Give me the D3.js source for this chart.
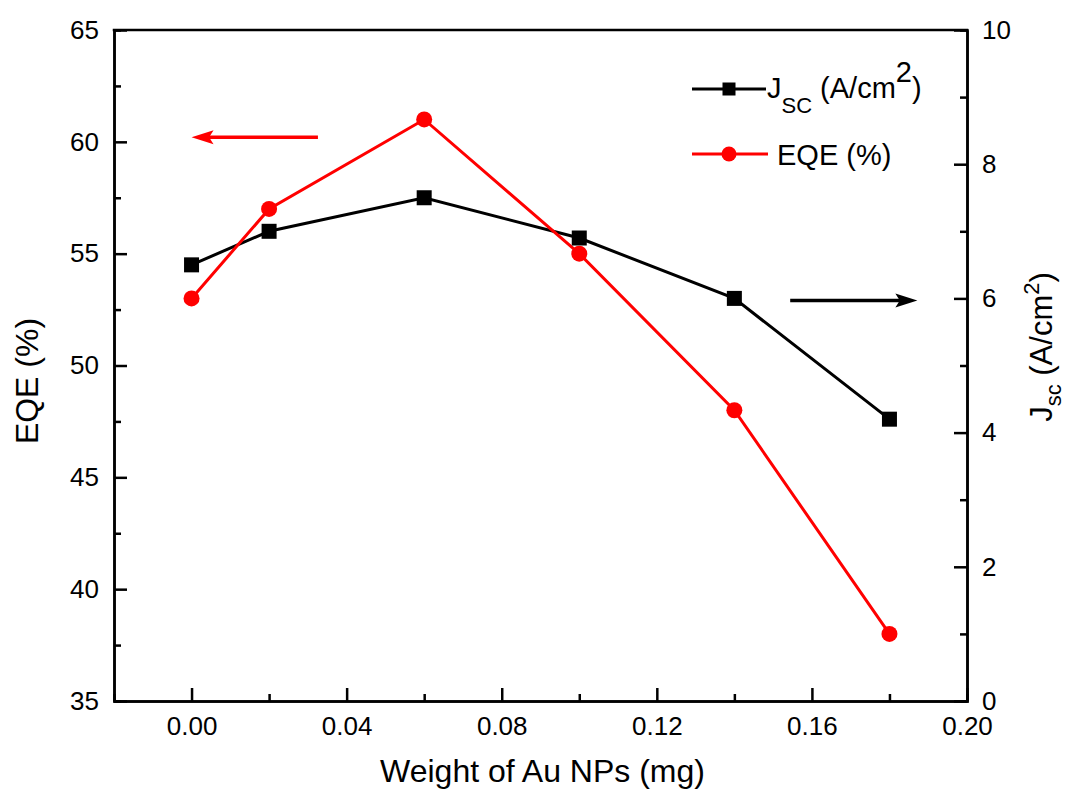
<!DOCTYPE html>
<html>
<head>
<meta charset="utf-8">
<script src="https://cdn.jsdelivr.net/npm/d3@7"></script>
<style>
  body { margin: 0; background: #fff; }
  svg { display: block; font-family: Arial, "Liberation Sans", sans-serif; }
</style>
</head>
<body>
<svg id="chart"></svg>
<script>
// data
const weight = [0.00, 0.02, 0.06, 0.10, 0.14, 0.18]; // mg
const jsc = [6.5, 7.0, 7.5, 6.9, 6.0, 4.2];          // A/cm2, right axis
const eqe = [53, 57, 61, 55, 48, 38];                // %, left axis

const xTicks = [0.00, 0.04, 0.08, 0.12, 0.16, 0.20];
const xMinor = [0.02, 0.06, 0.10, 0.14, 0.18];
const yLeftTicks = [35, 40, 45, 50, 55, 60, 65];
const yLeftMinor = [37.5, 42.5, 47.5, 52.5, 57.5, 62.5];
const yRightTicks = [0, 2, 4, 6, 8, 10];
const yRightMinor = [1, 3, 5, 7, 9];

// annotation arrows: [from, to] in data units
const eqeArrow = {x: [0.0326, 0.0], y: 60.2};
const jscArrow = {x: [0.1544, 0.1872], y: 5.97};

const width = 1065, height = 791;
const marginLeft = 114, marginRight = 98, marginTop = 30, marginBottom = 90;

const x = d3.scaleLinear([-0.02, 0.20], [marginLeft, width - marginRight]);
const yL = d3.scaleLinear([35, 65], [height - marginBottom, marginTop]);
const yR = d3.scaleLinear([0, 10], [height - marginBottom, marginTop]);

const svg = d3.select("#chart")
    .attr("width", width)
    .attr("height", height)
    .attr("viewBox", [0, 0, width, height]);

const axisW = 2.5, major = 13, minor = 7, tickFont = 26;

function styleAxis(g) {
  g.attr("font-size", tickFont).attr("font-family", null);
  g.select(".domain").attr("stroke-width", axisW);
  g.selectAll(".tick line").attr("stroke-width", axisW);
  g.selectAll(".tick text").attr("fill", "#000");
}

// minor ticks first, majors on top
svg.append("g")
    .attr("transform", `translate(0,${height - marginBottom})`)
    .call(d3.axisBottom(x).tickValues(xMinor).tickSize(-minor).tickFormat(""))
    .call(styleAxis);
svg.append("g")
    .attr("transform", `translate(0,${height - marginBottom})`)
    .call(d3.axisBottom(x).tickValues(xTicks).tickSizeInner(-major).tickSizeOuter(0)
      .tickPadding(16).tickFormat(d3.format(".2f")))
    .call(styleAxis);

svg.append("g")
    .attr("transform", `translate(${marginLeft},0)`)
    .call(d3.axisLeft(yL).tickValues(yLeftMinor).tickSize(-minor).tickFormat(""))
    .call(styleAxis);
svg.append("g")
    .attr("transform", `translate(${marginLeft},0)`)
    .call(d3.axisLeft(yL).tickValues(yLeftTicks).tickSizeInner(-major).tickSizeOuter(0)
      .tickPadding(15))
    .call(styleAxis);

svg.append("g")
    .attr("transform", `translate(${width - marginRight},0)`)
    .call(d3.axisRight(yR).tickValues(yRightMinor).tickSize(-minor).tickFormat(""))
    .call(styleAxis);
svg.append("g")
    .attr("transform", `translate(${width - marginRight},0)`)
    .call(d3.axisRight(yR).tickValues(yRightTicks).tickSizeInner(-major).tickSizeOuter(0)
      .tickPadding(15))
    .call(styleAxis);

// top frame line
svg.append("line")
    .attr("x1", marginLeft - axisW / 2).attr("x2", width - marginRight + axisW / 2)
    .attr("y1", marginTop).attr("y2", marginTop)
    .attr("stroke", "#000").attr("stroke-width", axisW);

// axis titles
svg.append("text")
    .attr("x", (marginLeft + width - marginRight) / 2 + 2)
    .attr("y", 782)
    .attr("text-anchor", "middle")
    .attr("font-size", 32)
    .text("Weight of Au NPs (mg)");

svg.append("text")
    .attr("transform", "translate(38,381) rotate(-90)")
    .attr("text-anchor", "middle")
    .attr("font-size", 32)
    .text("EQE (%)");

const rTitle = svg.append("text")
    .attr("transform", "translate(1052,347) rotate(-90)")
    .attr("text-anchor", "middle")
    .attr("font-size", 31);
rTitle.append("tspan").text("J");
rTitle.append("tspan").attr("font-size", 22).attr("dy", 9).text("sc");
rTitle.append("tspan").attr("dy", -9).text(" (A/cm");
rTitle.append("tspan").attr("font-size", 22).attr("dy", -13).text("2");
rTitle.append("tspan").attr("dy", 13).text(")");

// series
const lineJ = d3.line().x((d, i) => x(weight[i])).y(d => yR(d));
const lineE = d3.line().x((d, i) => x(weight[i])).y(d => yL(d));

svg.append("path")
    .attr("d", lineJ(jsc))
    .attr("fill", "none").attr("stroke", "#000").attr("stroke-width", 3);
svg.append("path")
    .attr("d", lineE(eqe))
    .attr("fill", "none").attr("stroke", "#ff0000").attr("stroke-width", 3);

const sq = 15, r = 8;
svg.append("g").selectAll("rect")
  .data(jsc)
  .join("rect")
    .attr("x", (d, i) => x(weight[i]) - sq / 2)
    .attr("y", d => yR(d) - sq / 2)
    .attr("width", sq).attr("height", sq)
    .attr("fill", "#000");
svg.append("g").selectAll("circle")
  .data(eqe)
  .join("circle")
    .attr("cx", (d, i) => x(weight[i]))
    .attr("cy", d => yL(d))
    .attr("r", r)
    .attr("fill", "#ff0000");

// arrows
function arrow(x0, x1, y, color) {
  const dir = Math.sign(x1 - x0), head = 22, half = 7;
  svg.append("line")
      .attr("x1", x0).attr("x2", x1 - dir * head * 0.6)
      .attr("y1", y).attr("y2", y)
      .attr("stroke", color).attr("stroke-width", 3.5);
  svg.append("path")
      .attr("d", `M${x1},${y}L${x1 - dir * head},${y - half}L${x1 - dir * head * 0.8},${y}L${x1 - dir * head},${y + half}Z`)
      .attr("fill", color);
}
arrow(x(eqeArrow.x[0]), x(eqeArrow.x[1]), yL(eqeArrow.y), "#ff0000");
arrow(x(jscArrow.x[0]), x(jscArrow.x[1]), yR(jscArrow.y), "#000");

// legend
const lg = svg.append("g").attr("font-size", 29);
lg.append("line").attr("x1", 692).attr("x2", 766).attr("y1", 89).attr("y2", 89)
    .attr("stroke", "#000").attr("stroke-width", 3);
lg.append("rect").attr("x", 729 - 6.5).attr("y", 89 - 6.5).attr("width", 13).attr("height", 13)
    .attr("fill", "#000");
const lt = lg.append("text").attr("x", 767).attr("y", 98);
lt.append("tspan").text("J");
lt.append("tspan").attr("font-size", 22).attr("dy", 15).text("SC");
lt.append("tspan").attr("dy", -15).text(" (A/cm");
lt.append("tspan").attr("dy", -16).text("2");
lt.append("tspan").attr("dy", 16).text(")");

lg.append("line").attr("x1", 692).attr("x2", 768).attr("y1", 154).attr("y2", 154)
    .attr("stroke", "#ff0000").attr("stroke-width", 3);
lg.append("circle").attr("cx", 729).attr("cy", 154).attr("r", 7.5).attr("fill", "#ff0000");
lg.append("text").attr("x", 777).attr("y", 165).text("EQE (%)");
</script>
</body>
</html>
